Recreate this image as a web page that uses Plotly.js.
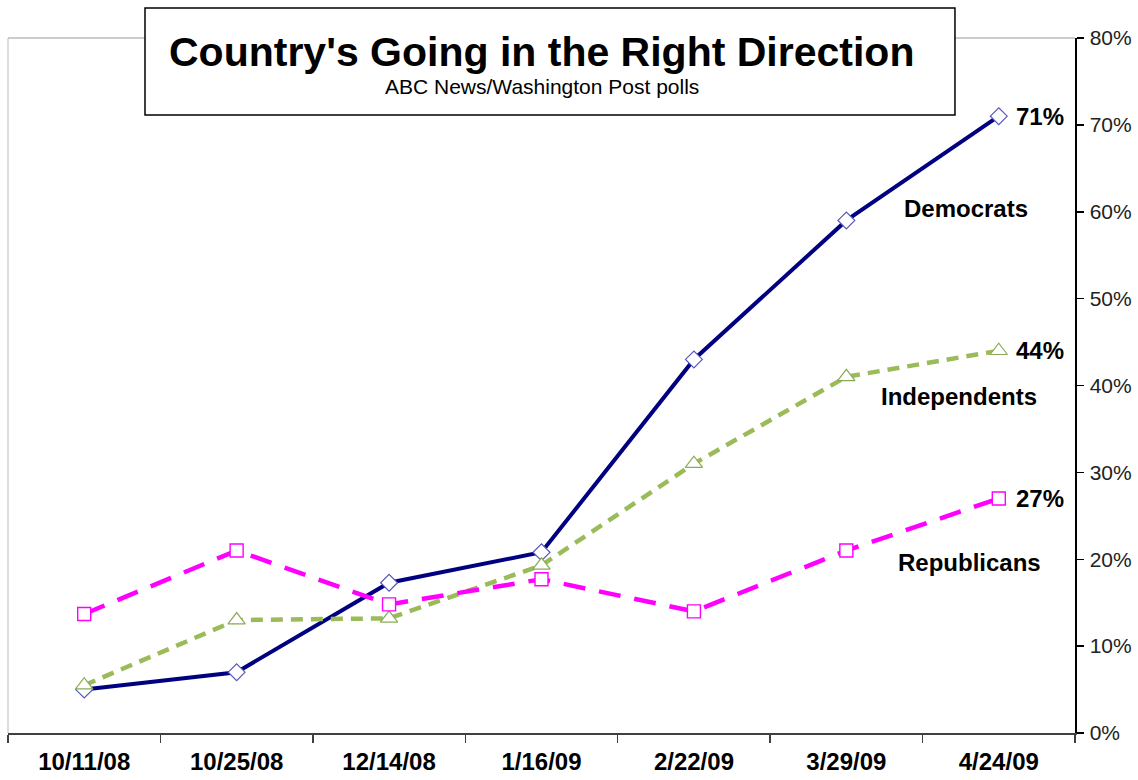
<!DOCTYPE html>
<html>
<head>
<meta charset="utf-8">
<script src="https://cdn.plot.ly/plotly-3.0.1.min.js"></script>
<style>html,body{margin:0;padding:0;background:#fff;}#chart{width:1138px;height:780px;}</style>
</head>
<body>
<div id="chart"></div>
<script>
const categories = ["10/11/08", "10/25/08", "12/14/08", "1/16/09", "2/22/09", "3/29/09", "4/24/09"];
const democrats = [5, 7, 17.3, 20.8, 43, 59, 71];
const independents = [5.5, 13, 13.2, 19.3, 31, 41, 44];
const republicans = [13.7, 21, 14.8, 17.7, 14, 21, 27];
const yTicks = [0, 10, 20, 30, 40, 50, 60, 70, 80];

const traces = [
  {
    x: categories, y: democrats, type: "scatter", mode: "lines+markers", name: "Democrats",
    line: {color: "#000080", width: 4},
    marker: {symbol: "diamond", size: 13, color: "#ffffff", line: {color: "#5555bb", width: 1.2}},
    cliponaxis: false
  },
  {
    x: categories, y: independents, type: "scatter", mode: "lines+markers", name: "Independents",
    line: {color: "#9BBB59", width: 4.5, dash: "12px,8px"},
    marker: {symbol: "triangle-up", size: 15, color: "#ffffff", line: {color: "#8aaa55", width: 1.2}},
    cliponaxis: false
  },
  {
    x: categories, y: republicans, type: "scatter", mode: "lines+markers", name: "Republicans",
    line: {color: "#FF00FF", width: 4.5, dash: "22px,14px"},
    marker: {symbol: "square", size: 13, color: "#ffffff", line: {color: "#FF00FF", width: 1.4}},
    cliponaxis: false
  }
];

const labelFont = {family: "Liberation Sans, Arial, sans-serif", size: 24, color: "#000"};
const annotations = [
  {text: "<b>Country's Going in the Right Direction</b>", xref: "paper", yref: "paper", x: 0.5, y: 0.98, xanchor: "center", yanchor: "middle", showarrow: false, font: {family: "Liberation Sans, Arial, sans-serif", size: 41, color: "#000"}},
  {text: "ABC News/Washington Post polls", xref: "paper", yref: "paper", x: 0.5, y: 0.9295, xanchor: "center", yanchor: "middle", showarrow: false, font: {family: "Liberation Sans, Arial, sans-serif", size: 21, color: "#000"}},
  {text: "<b>71%</b>", x: 6, y: democrats[6], xref: "x", yref: "y", xanchor: "left", yanchor: "middle", xshift: 15, showarrow: false, font: labelFont},
  {text: "<b>44%</b>", x: 6, y: independents[6], xref: "x", yref: "y", xanchor: "left", yanchor: "middle", xshift: 15, showarrow: false, font: labelFont},
  {text: "<b>27%</b>", x: 6, y: republicans[6], xref: "x", yref: "y", xanchor: "left", yanchor: "middle", xshift: 15, showarrow: false, font: labelFont},
  {text: "<b>Democrats</b>", x: 5.785, y: 60.4, xref: "x", yref: "y", xanchor: "center", yanchor: "middle", showarrow: false, font: labelFont},
  {text: "<b>Independents</b>", x: 5.74, y: 38.7, xref: "x", yref: "y", xanchor: "center", yanchor: "middle", showarrow: false, font: labelFont},
  {text: "<b>Republicans</b>", x: 5.805, y: 19.6, xref: "x", yref: "y", xanchor: "center", yanchor: "middle", showarrow: false, font: labelFont}
];

const shapes = [
  {type: "line", xref: "paper", yref: "paper", x0: 0, x1: 1, y0: 1, y1: 1, line: {color: "#999999", width: 1}, layer: "below"},
  {type: "line", xref: "paper", yref: "paper", x0: 0, x1: 0, y0: 0, y1: 1, line: {color: "#bbbbbb", width: 1}, layer: "below"},
  {type: "rect", xref: "paper", yref: "paper", x0: 0.1284, x1: 0.8875, y0: 0.8892, y1: 1.0432, fillcolor: "#ffffff", line: {color: "#000000", width: 1.5}, layer: "above"}
];

const layout = {
  width: 1138, height: 780,
  margin: {l: 8, r: 63, t: 38, b: 47},
  paper_bgcolor: "#ffffff", plot_bgcolor: "#ffffff",
  showlegend: false,
  font: {family: "Liberation Sans, Arial, sans-serif"},
  xaxis: {
    type: "category", categoryorder: "array", categoryarray: categories,
    range: [-0.5, 6.5], showgrid: false, zeroline: false,
    showline: true, linecolor: "#404040", linewidth: 1.5,
    ticks: "outside", tickson: "boundaries", ticklen: 8, tickcolor: "#404040", tickwidth: 1.5,
    tickfont: {family: "Liberation Sans, Arial, sans-serif", size: 24, color: "#000", weight: "bold"},
    ticklabelstandoff: 7
  },
  yaxis: {
    side: "right", range: [0, 80], tickvals: yTicks, ticktext: yTicks.map(v => v + "%"),
    showgrid: false, zeroline: false, showline: true, linecolor: "#000", linewidth: 1.5,
    ticks: "outside", ticklen: 7, tickcolor: "#000", tickwidth: 1.5,
    tickfont: {family: "Liberation Sans, Arial, sans-serif", size: 21, color: "#222"},
    ticklabelstandoff: 2,
    fixedrange: true
  },
  annotations: annotations,
  shapes: shapes
};

Plotly.newPlot("chart", traces, layout, {displayModeBar: false, staticPlot: true});
</script>
</body>
</html>
